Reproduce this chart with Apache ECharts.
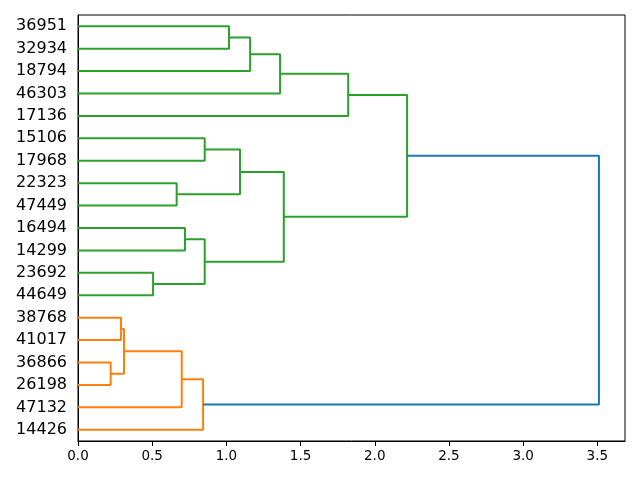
<!DOCTYPE html>
<html>
<head>
<meta charset="utf-8">
<script src="https://cdn.jsdelivr.net/npm/echarts@6/dist/echarts.min.js"></script>
<style>html,body{margin:0;padding:0;background:#fff}#c{width:640px;height:480px}</style>
</head>
<body>
<div id="c"></div>
<script>
// Leaf labels, bottom to top
const leaves = ['14426','47132','26198','36866','41017','38768','44649','23692','14299','16494','47449','22323','17968','15106','17136','46303','18794','32934','36951'];
// Linkage: cluster ids 0..18 are leaves, merges get ids 19, 20, ...
const mergeA = [2, 4, 19, 1, 0, 6, 8, 24, 10, 12, 27, 26, 17, 16, 15, 14, 30, 23];
const mergeB = [3, 5, 20, 21, 22, 7, 9, 25, 11, 13, 28, 29, 18, 31, 32, 33, 34, 35];
const mergeHeight = [0.220, 0.290, 0.310, 0.699, 0.843, 0.506, 0.721, 0.854, 0.665, 0.854, 1.092, 1.387, 1.018, 1.160, 1.362, 1.821, 2.218, 3.511];
const mergeColor = ['C1','C1','C1','C1','C1','C2','C2','C2','C2','C2','C2','C2','C2','C2','C2','C2','C2','C0'];
const xTicks = [0, 0.5, 1.0, 1.5, 2.0, 2.5, 3.0, 3.5];

const palette = {C0: '#1f77b4', C1: '#ff7f0e', C2: '#2ca02c'};
const n = leaves.length;
const pos = [], hgt = [];
for (let i = 0; i < n; i++) { pos.push(5 + 10 * i); hgt.push(0); }
const series = [];
for (let k = 0; k < mergeA.length; k++) {
  const a = mergeA[k], b = mergeB[k], h = mergeHeight[k];
  const ya = pos[a], yb = pos[b];
  series.push({
    type: 'line', yAxisIndex: 1, xAxisIndex: 0,
    data: [[hgt[a], ya], [h, ya], [h, yb], [hgt[b], yb]],
    showSymbol: false, symbol: 'none', silent: true,
    lineStyle: {color: palette[mergeColor[k]], width: 2},
    animation: false
  });
  pos.push((ya + yb) / 2); hgt.push(h);
}
const xmax = Math.max(...mergeHeight) * 1.05;

const chart = echarts.init(document.getElementById('c'), null, {renderer: 'canvas'});
chart.setOption({
  animation: false,
  backgroundColor: '#fff',
  grid: {left: 78, right: 15, top: 15, bottom: 39, show: true, borderColor: '#000', borderWidth: 1, backgroundColor: 'transparent'},
  xAxis: {
    type: 'value', min: 0, max: xmax,
    axisLine: {show: true, lineStyle: {color: '#000', width: 1}},
    axisTick: {show: true, length: 5, lineStyle: {color: '#000'}, customValues: xTicks},
    axisLabel: {color: '#000', fontFamily: 'DejaVu Sans', fontSize: 13.5, margin: 8, customValues: xTicks,
      formatter: v => v.toFixed(1)},
    splitLine: {show: false}
  },
  yAxis: [
    {
      type: 'category', data: leaves, boundaryGap: true, position: 'left',
      axisLine: {show: true, lineStyle: {color: '#000', width: 1}},
      axisTick: {show: false},
      axisLabel: {color: '#000', fontFamily: 'DejaVu Sans', fontSize: 16, margin: 11},
      splitLine: {show: false}
    },
    {
      type: 'value', min: 0, max: 10 * n, show: false, splitLine: {show: false}
    }
  ],
  series: series
});
</script>
</body>
</html>
